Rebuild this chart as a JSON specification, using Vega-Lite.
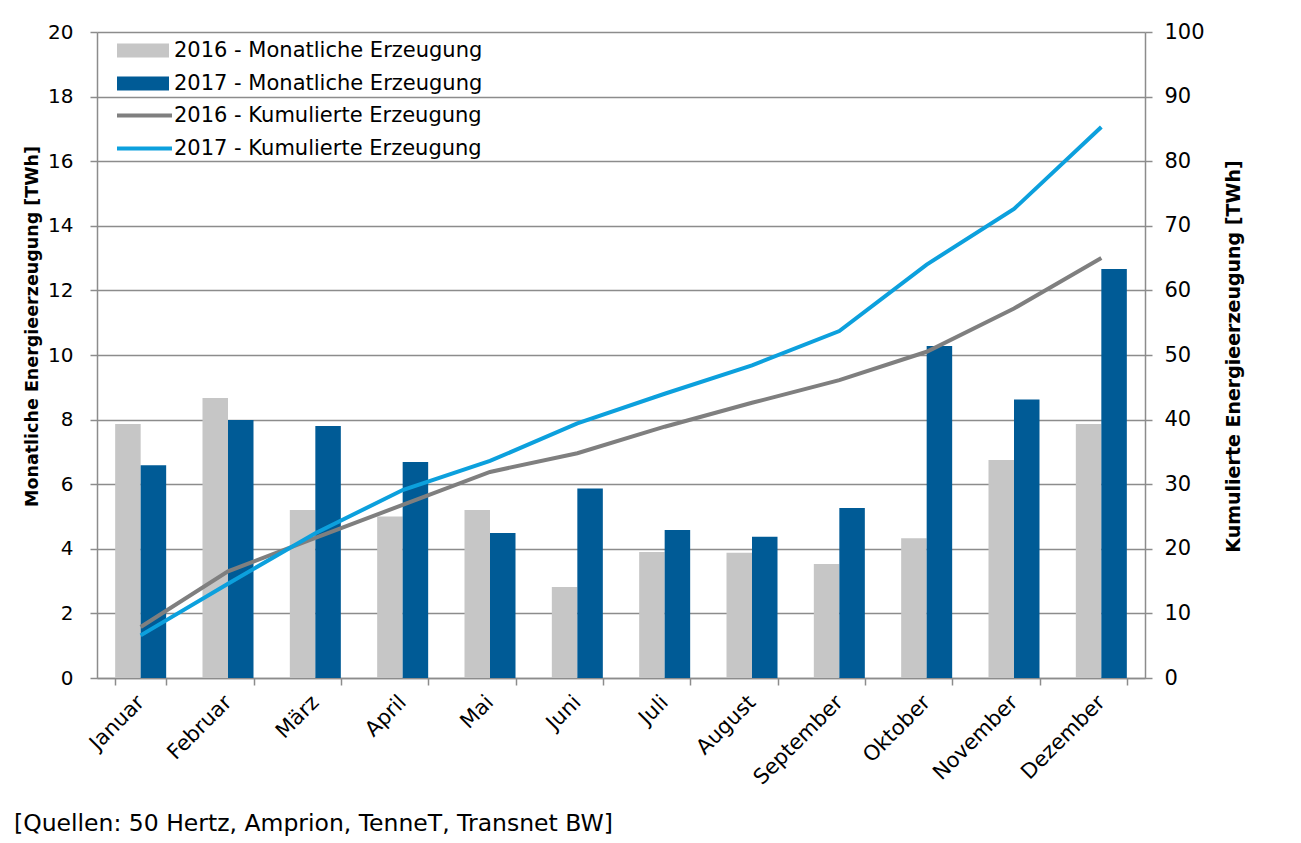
{
  "$schema": "https://vega.github.io/schema/vega-lite/v6.json",
  "autosize": "none",
  "width": 1048,
  "height": 646,
  "padding": {"left": 97, "top": 32, "right": 156, "bottom": 165},
  "background": "white",
  "config": {
    "font": "DejaVu Sans",
    "view": {"stroke": null},
    "axis": {
      "domainColor": "#8c8c8c", "domainWidth": 1.5,
      "tickColor": "#8c8c8c", "tickWidth": 1.5, "tickSize": 7,
      "gridColor": "#8c8c8c", "gridWidth": 1.3,
      "labelColor": "#000000", "labelFontSize": 20, "labelFont": "DejaVu Sans",
      "titleColor": "#000000", "titleFont": "DejaVu Sans", "titleFontSize": 17.5, "titleFontWeight": "bold"
    },
    "legend": {"labelFontSize": 21, "labelColor": "#000000", "labelFont": "DejaVu Sans", "labelLimit": 0}
  },
  "title": {
    "text": "[Quellen: 50 Hertz, Amprion, TenneT, Transnet BW]",
    "orient": "bottom", "anchor": "start", "frame": "group",
    "dx": -83, "offset": 24,
    "fontSize": 23.5, "fontWeight": "normal", "color": "#000000", "font": "DejaVu Sans"
  },
  "data": {"values": [
    {"Monat": "Januar", "Jahr": "2016", "Monatlich": 7.86, "Kumuliert": 7.9, "Balken": "2016 - Monatliche Erzeugung", "Linie": "2016 - Kumulierte Erzeugung"},
    {"Monat": "Februar", "Jahr": "2016", "Monatlich": 8.67, "Kumuliert": 16.5, "Balken": "2016 - Monatliche Erzeugung", "Linie": "2016 - Kumulierte Erzeugung"},
    {"Monat": "März", "Jahr": "2016", "Monatlich": 5.2, "Kumuliert": 21.7, "Balken": "2016 - Monatliche Erzeugung", "Linie": "2016 - Kumulierte Erzeugung"},
    {"Monat": "April", "Jahr": "2016", "Monatlich": 5.0, "Kumuliert": 26.8, "Balken": "2016 - Monatliche Erzeugung", "Linie": "2016 - Kumulierte Erzeugung"},
    {"Monat": "Mai", "Jahr": "2016", "Monatlich": 5.2, "Kumuliert": 31.9, "Balken": "2016 - Monatliche Erzeugung", "Linie": "2016 - Kumulierte Erzeugung"},
    {"Monat": "Juni", "Jahr": "2016", "Monatlich": 2.82, "Kumuliert": 34.8, "Balken": "2016 - Monatliche Erzeugung", "Linie": "2016 - Kumulierte Erzeugung"},
    {"Monat": "Juli", "Jahr": "2016", "Monatlich": 3.9, "Kumuliert": 38.9, "Balken": "2016 - Monatliche Erzeugung", "Linie": "2016 - Kumulierte Erzeugung"},
    {"Monat": "August", "Jahr": "2016", "Monatlich": 3.88, "Kumuliert": 42.6, "Balken": "2016 - Monatliche Erzeugung", "Linie": "2016 - Kumulierte Erzeugung"},
    {"Monat": "September", "Jahr": "2016", "Monatlich": 3.53, "Kumuliert": 46.1, "Balken": "2016 - Monatliche Erzeugung", "Linie": "2016 - Kumulierte Erzeugung"},
    {"Monat": "Oktober", "Jahr": "2016", "Monatlich": 4.33, "Kumuliert": 50.5, "Balken": "2016 - Monatliche Erzeugung", "Linie": "2016 - Kumulierte Erzeugung"},
    {"Monat": "November", "Jahr": "2016", "Monatlich": 6.75, "Kumuliert": 57.2, "Balken": "2016 - Monatliche Erzeugung", "Linie": "2016 - Kumulierte Erzeugung"},
    {"Monat": "Dezember", "Jahr": "2016", "Monatlich": 7.86, "Kumuliert": 65.0, "Balken": "2016 - Monatliche Erzeugung", "Linie": "2016 - Kumulierte Erzeugung"},
    {"Monat": "Januar", "Jahr": "2017", "Monatlich": 6.59, "Kumuliert": 6.6, "Balken": "2017 - Monatliche Erzeugung", "Linie": "2017 - Kumulierte Erzeugung"},
    {"Monat": "Februar", "Jahr": "2017", "Monatlich": 7.99, "Kumuliert": 14.6, "Balken": "2017 - Monatliche Erzeugung", "Linie": "2017 - Kumulierte Erzeugung"},
    {"Monat": "März", "Jahr": "2017", "Monatlich": 7.8, "Kumuliert": 22.4, "Balken": "2017 - Monatliche Erzeugung", "Linie": "2017 - Kumulierte Erzeugung"},
    {"Monat": "April", "Jahr": "2017", "Monatlich": 6.69, "Kumuliert": 29.1, "Balken": "2017 - Monatliche Erzeugung", "Linie": "2017 - Kumulierte Erzeugung"},
    {"Monat": "Mai", "Jahr": "2017", "Monatlich": 4.49, "Kumuliert": 33.6, "Balken": "2017 - Monatliche Erzeugung", "Linie": "2017 - Kumulierte Erzeugung"},
    {"Monat": "Juni", "Jahr": "2017", "Monatlich": 5.87, "Kumuliert": 39.4, "Balken": "2017 - Monatliche Erzeugung", "Linie": "2017 - Kumulierte Erzeugung"},
    {"Monat": "Juli", "Jahr": "2017", "Monatlich": 4.58, "Kumuliert": 44.0, "Balken": "2017 - Monatliche Erzeugung", "Linie": "2017 - Kumulierte Erzeugung"},
    {"Monat": "August", "Jahr": "2017", "Monatlich": 4.37, "Kumuliert": 48.4, "Balken": "2017 - Monatliche Erzeugung", "Linie": "2017 - Kumulierte Erzeugung"},
    {"Monat": "September", "Jahr": "2017", "Monatlich": 5.26, "Kumuliert": 53.7, "Balken": "2017 - Monatliche Erzeugung", "Linie": "2017 - Kumulierte Erzeugung"},
    {"Monat": "Oktober", "Jahr": "2017", "Monatlich": 10.28, "Kumuliert": 64.0, "Balken": "2017 - Monatliche Erzeugung", "Linie": "2017 - Kumulierte Erzeugung"},
    {"Monat": "November", "Jahr": "2017", "Monatlich": 8.62, "Kumuliert": 72.6, "Balken": "2017 - Monatliche Erzeugung", "Linie": "2017 - Kumulierte Erzeugung"},
    {"Monat": "Dezember", "Jahr": "2017", "Monatlich": 12.66, "Kumuliert": 85.3, "Balken": "2017 - Monatliche Erzeugung", "Linie": "2017 - Kumulierte Erzeugung"}
  ]},
  "encoding": {
    "x": {
      "field": "Monat", "type": "nominal",
      "sort": ["Januar", "Februar", "März", "April", "Mai", "Juni", "Juli", "August", "September", "Oktober", "November", "Dezember"],
      "scale": {"paddingInner": 0.416, "paddingOuter": 0.208},
      "axis": {"title": null, "labelAngle": -45, "labelAlign": "right", "labelBaseline": "middle", "tickBand": "extent", "grid": false, "labelPadding": 14, "labelFontSize": 21}
    }
  },
  "layer": [
    {
      "mark": {"type": "bar"},
      "encoding": {
        "xOffset": {"field": "Jahr", "type": "nominal", "scale": {"paddingInner": 0, "paddingOuter": 0}},
        "y": {
          "field": "Monatlich", "type": "quantitative",
          "scale": {"domain": [0, 20], "nice": false},
          "axis": {"title": "Monatliche Energieerzeugung [TWh]", "orient": "left", "values": [0, 2, 4, 6, 8, 10, 12, 14, 16, 18, 20], "grid": true, "labelPadding": 17, "titleX": -65, "titleY": 294, "titleAngle": -90, "titleAlign": "center", "titleBaseline": "middle"}
        },
        "fill": {
          "field": "Balken", "type": "nominal",
          "scale": {"domain": ["2016 - Monatliche Erzeugung", "2017 - Monatliche Erzeugung"], "range": ["#c6c6c6", "#005b96"]},
          "legend": {"title": null, "orient": "none", "legendX": 20, "legendY": 2, "symbolType": "M-1,-0.27H1V0.27H-1Z", "symbolSize": 2704, "symbolStrokeWidth": 0, "symbolOpacity": 1, "clipHeight": 33, "rowPadding": 0, "labelOffset": 5}
        }
      }
    },
    {
      "mark": {"type": "line", "strokeWidth": 4},
      "encoding": {
        "y": {
          "field": "Kumuliert", "type": "quantitative",
          "scale": {"domain": [0, 100], "nice": false},
          "axis": {"title": "Kumulierte Energieerzeugung [TWh]", "orient": "right", "values": [0, 10, 20, 30, 40, 50, 60, 70, 80, 90, 100], "grid": false, "labelPadding": 12, "labelFontSize": 21, "titleFontSize": 19, "titleX": 88, "titleY": 324, "titleAngle": 270, "titleAlign": "center", "titleBaseline": "middle"}
        },
        "stroke": {
          "field": "Linie", "type": "nominal",
          "scale": {"domain": ["2016 - Kumulierte Erzeugung", "2017 - Kumulierte Erzeugung"], "range": ["#7f7f7f", "#0ca0dd"]},
          "legend": {"title": null, "orient": "none", "legendX": 18, "legendY": 67, "symbolType": "stroke", "symbolSize": 3025, "symbolStrokeWidth": 4, "clipHeight": 33, "rowPadding": 0, "labelOffset": 0}
        }
      }
    }
  ],
  "resolve": {"scale": {"y": "independent"}}
}
